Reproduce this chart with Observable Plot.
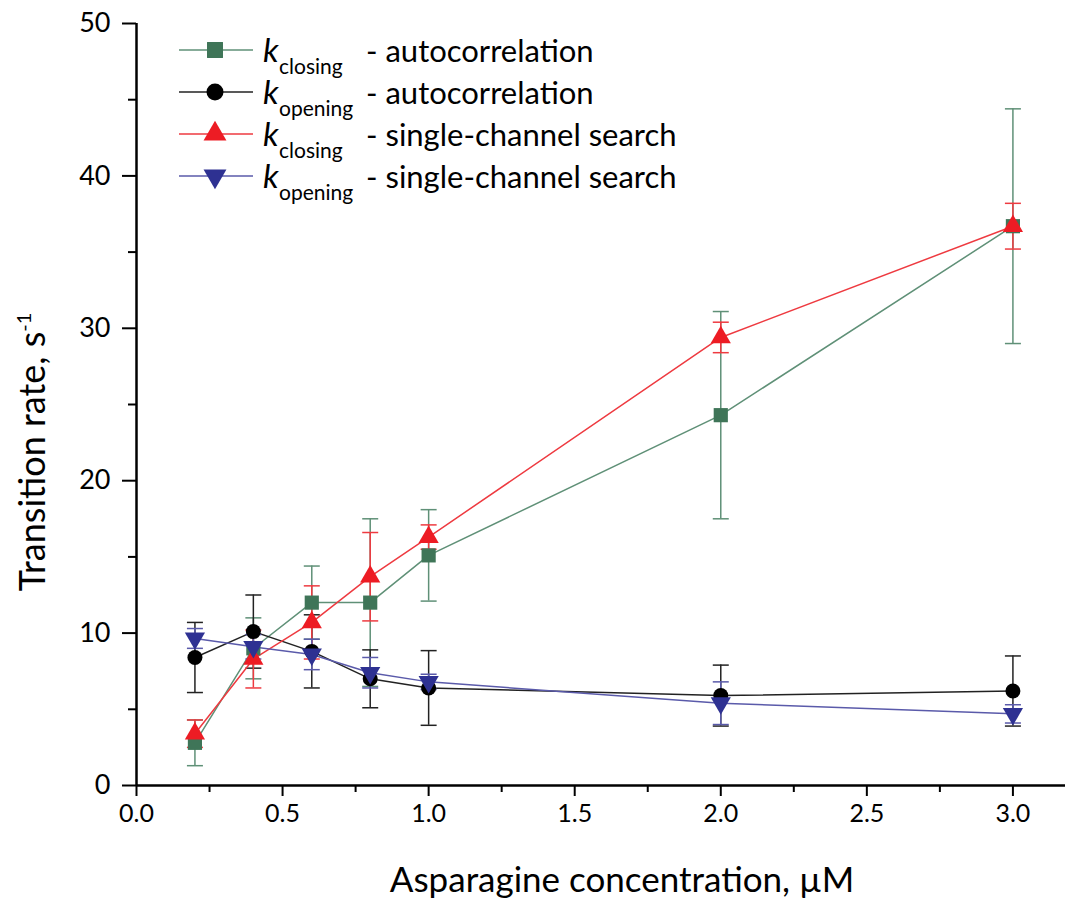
<!DOCTYPE html>
<html>
<head>
<meta charset="utf-8">
<script src="https://cdn.jsdelivr.net/npm/d3@7"></script>
<script src="https://cdn.jsdelivr.net/npm/@observablehq/plot@0.6"></script>
<style>
  html, body { margin: 0; padding: 0; background: #fff; }
</style>
</head>
<body>
<div id="chart"></div>
<script>
// ---- Data ----
const concentration = [0.2, 0.4, 0.6, 0.8, 1.0, 2.0, 3.0];

const kClosingAuto      = [2.8, 9.0, 12.0, 12.0, 15.1, 24.3, 36.7];
const kClosingAutoErr   = [1.5, 2.0, 2.4, 5.5, 3.0, 6.8, 7.7];

const kOpeningAuto      = [8.4, 10.1, 8.8, 7.0, 6.4, 5.9, 6.2];
const kOpeningAutoErr   = [2.3, 2.4, 2.4, 1.9, 2.45, 2.0, 2.3];

const kClosingSingle    = [3.4, 8.3, 10.7, 13.7, 16.3, 29.4, 36.7];
const kClosingSingleErr = [0.9, 1.9, 2.4, 2.9, 0.8, 1.0, 1.5];

const kOpeningSingle    = [9.65, 9.1, 8.6, 7.4, 6.8, 5.4, 4.7];
const kOpeningSingleErr = [0.65, 0.8, 1.0, 1.0, 0.5, 1.4, 0.6];

const xMajorTicks = [0, 0.5, 1.0, 1.5, 2.0, 2.5, 3.0];
const xMinorTicks = [0.25, 0.75, 1.25, 1.75, 2.25, 2.75];
const yMajorTicks = [0, 10, 20, 30, 40, 50];
const yMinorTicks = [5, 15, 25, 35, 45];

const seriesSub  = ["closing", "opening", "closing", "opening"];
const seriesDesc = ["- autocorrelation", "- autocorrelation", "- single-channel search", "- single-channel search"];

// ---- Symbols ----
const triangleDown = {
  draw(context, size) {
    const s3 = Math.sqrt(3);
    const y = -Math.sqrt(size / (s3 * 3));
    context.moveTo(0, -y * 2);
    context.lineTo(-s3 * y, y);
    context.lineTo(s3 * y, y);
    context.closePath();
  }
};
const hbar = {
  draw(context, size) {
    const r = Math.sqrt(size / Math.PI);
    context.moveTo(-r, 0);
    context.lineTo(r, 0);
  }
};

const series = [
  {vals: kClosingAuto,   errs: kClosingAutoErr,   fill: "#3f7558", line: "#5f9077", symbol: "square",   r: 8},
  {vals: kOpeningAuto,   errs: kOpeningAutoErr,   fill: "#000000", line: "#222222", symbol: "circle",   r: 7.5},
  {vals: kClosingSingle, errs: kClosingSingleErr, fill: "#ed1c24", line: "#ee3a40", symbol: "triangle", r: 7.5},
  {vals: kOpeningSingle, errs: kOpeningSingleErr, fill: "#2e3192", line: "#5a5aaa", symbol: triangleDown, r: 7.5}
];

const tables = series.map(s => concentration.map((x, i) => ({
  x, y: s.vals[i], lo: s.vals[i] - s.errs[i], hi: s.vals[i] + s.errs[i]
})));

const FONT = "Lato, 'Open Sans', sans-serif";

const marks = [];
series.forEach((s, k) => {
  const t = tables[k];
  marks.push(Plot.ruleX(t, {x: "x", y1: "lo", y2: "hi", stroke: s.line, strokeWidth: 1.5}));
  marks.push(Plot.dot(t, {x: "x", y: "lo", symbol: hbar, r: 8, stroke: s.line, strokeWidth: 1.5, fill: "none"}));
  marks.push(Plot.dot(t, {x: "x", y: "hi", symbol: hbar, r: 8, stroke: s.line, strokeWidth: 1.5, fill: "none"}));
  marks.push(Plot.line(t, {x: "x", y: "y", stroke: s.line, strokeWidth: 1.5}));
});
series.forEach((s, k) => {
  marks.push(Plot.dot(tables[k], {x: "x", y: "y", symbol: s.symbol, r: s.r, fill: s.fill, stroke: "none"}));
});

const chart = Plot.plot({
  width: 1077,
  height: 902,
  marginLeft: 136,
  marginRight: 12,
  marginTop: 23,
  marginBottom: 117,
  style: {fontFamily: FONT, fontSize: "24px", color: "#000", background: "#fff"},
  x: {domain: [0, 3.18]},
  y: {domain: [0, 50]},
  marks: [
    Plot.axisX({ticks: xMajorTicks, tickSize: 11, tickPadding: 8, tickFormat: d3.format(".1f"), fontSize: 25, strokeWidth: 2, label: null}),
    Plot.axisX({ticks: xMinorTicks, tickSize: 7, tickFormat: () => "", strokeWidth: 2, label: null}),
    Plot.axisY({ticks: yMajorTicks, tickSize: 14, tickPadding: 12, tickFormat: d => String(d), fontSize: 27, strokeWidth: 2, label: null}),
    Plot.axisY({ticks: yMinorTicks, tickSize: 8, tickFormat: () => "", strokeWidth: 2, label: null}),
    Plot.ruleY([0], {strokeWidth: 2.5}),
    Plot.ruleX([0], {y1: 0, y2: 50, strokeWidth: 2.5}),
    ...marks
  ]
});

document.getElementById("chart").appendChild(chart);

const svg = d3.select(chart);

// Axis titles
svg.append("text")
  .attr("x", 622).attr("y", 892)
  .attr("text-anchor", "middle")
  .style("font-family", FONT).style("font-size", "35px").attr("fill", "#000")
  .text("Asparagine concentration, µM");

const yt = svg.append("text")
  .attr("transform", "translate(45,452) rotate(-90)")
  .attr("text-anchor", "middle")
  .style("font-family", FONT).style("font-size", "36px").attr("fill", "#000");
yt.append("tspan").text("Transition rate, s");
yt.append("tspan").attr("dy", -14).style("font-size", "20px").text("-1");

// Legend
const lg = svg.append("g").attr("text-anchor", "start");
series.forEach((s, i) => {
  const cy = 50 + 42 * i;
  lg.append("line").attr("x1", 179).attr("x2", 253).attr("y1", cy).attr("y2", cy)
    .attr("stroke", s.line).attr("stroke-width", 1.5);
  const symType = s.symbol === "square" ? d3.symbolSquare
                : s.symbol === "circle" ? d3.symbolCircle
                : s.symbol === "triangle" ? d3.symbolTriangle : s.symbol;
  const rr = s.symbol === "square" ? 9 : 8.5;
  lg.append("path").attr("transform", `translate(215,${cy})`)
    .attr("d", d3.symbol(symType, rr * rr * Math.PI)())
    .attr("fill", s.fill);
  lg.append("text").attr("x", 263).attr("y", cy + 12).attr("text-anchor", "start")
    .style("font-family", FONT).style("font-size", "33px").style("font-style", "italic")
    .text("k");
  lg.append("text").attr("x", 279).attr("y", cy + 24).attr("text-anchor", "start")
    .style("font-family", FONT).style("font-size", "21px")
    .text(seriesSub[i]);
  lg.append("text").attr("x", 366).attr("y", cy + 12).attr("text-anchor", "start")
    .style("font-family", FONT).style("font-size", "31px")
    .text(seriesDesc[i]);
});
</script>
</body>
</html>
